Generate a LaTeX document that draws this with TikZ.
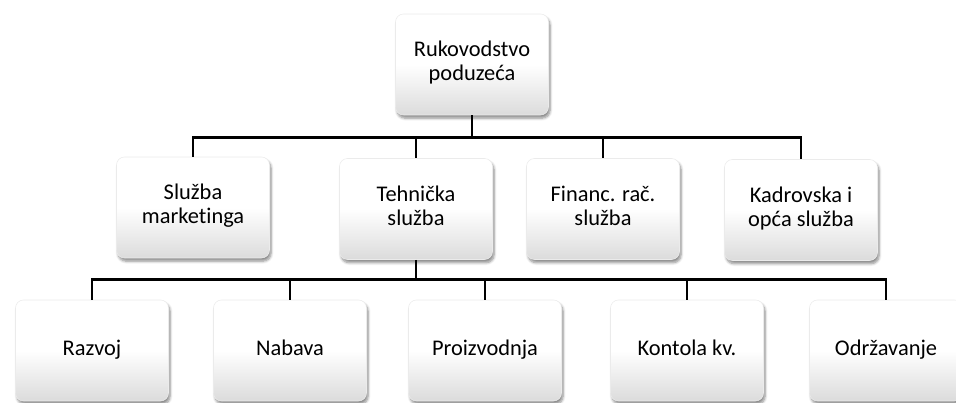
\documentclass[tikz,border=0pt]{standalone}
\usepackage{fontspec}
\setmainfont[Ligatures=NoCommon]{Carlito}
\usetikzlibrary{shadows.blur}
\tikzset{
  box/.style={rectangle, rounded corners=6pt, minimum width=114.75pt, minimum height=75.75pt,
    align=center, draw=black!8, top color=white, bottom color=black!14, middle color=white,
    blur shadow={shadow xshift=1.2pt, shadow yshift=-2.4pt, shadow opacity=45, shadow blur steps=6},
    font=\fontsize{16.8}{17.8}\selectfont,
    execute at begin node=\strut, execute at end node=\strut},
  conn/.style={line width=1.6pt, black}
}
\begin{document}
\begin{tikzpicture}[x=0.75pt, y=-0.75pt]
\useasboundingbox (0,0) rectangle (956,403);
\clip (0,0) rectangle (956,403);
\node[box] (org0) at (472,64.5){Rukovodstvo\\poduzeća};
\node[box] (org1) at (193,207.5){Služba\\marketinga};
\node[box] (org2) at (416,209){Tehnička\\služba};
\node[box] (org3) at (603,209){Financ. rač.\\služba};
\node[box] (org4) at (801,210){Kadrovska i\\opća služba};
\coordinate (bus0) at (472,137.5);
\draw[conn] (org0) -- (bus0);
\draw[conn] (bus0) -| (org1);
\draw[conn] (bus0) -| (org2);
\draw[conn] (bus0) -| (org3);
\draw[conn] (bus0) -| (org4);
\node[box] (org5) at (92,350.5){Razvoj};
\node[box] (org6) at (290,350.5){Nabava};
\node[box] (org7) at (485,350.5){Proizvodnja};
\node[box] (org8) at (687,350.5){Kontola kv.};
\node[box] (org9) at (886,350.5){Održavanje};
\coordinate (bus2) at (416,279.5);
\draw[conn] (org2) -- (bus2);
\draw[conn] (bus2) -| (org5);
\draw[conn] (bus2) -| (org6);
\draw[conn] (bus2) -| (org7);
\draw[conn] (bus2) -| (org8);
\draw[conn] (bus2) -| (org9);
\end{tikzpicture}
\end{document}
